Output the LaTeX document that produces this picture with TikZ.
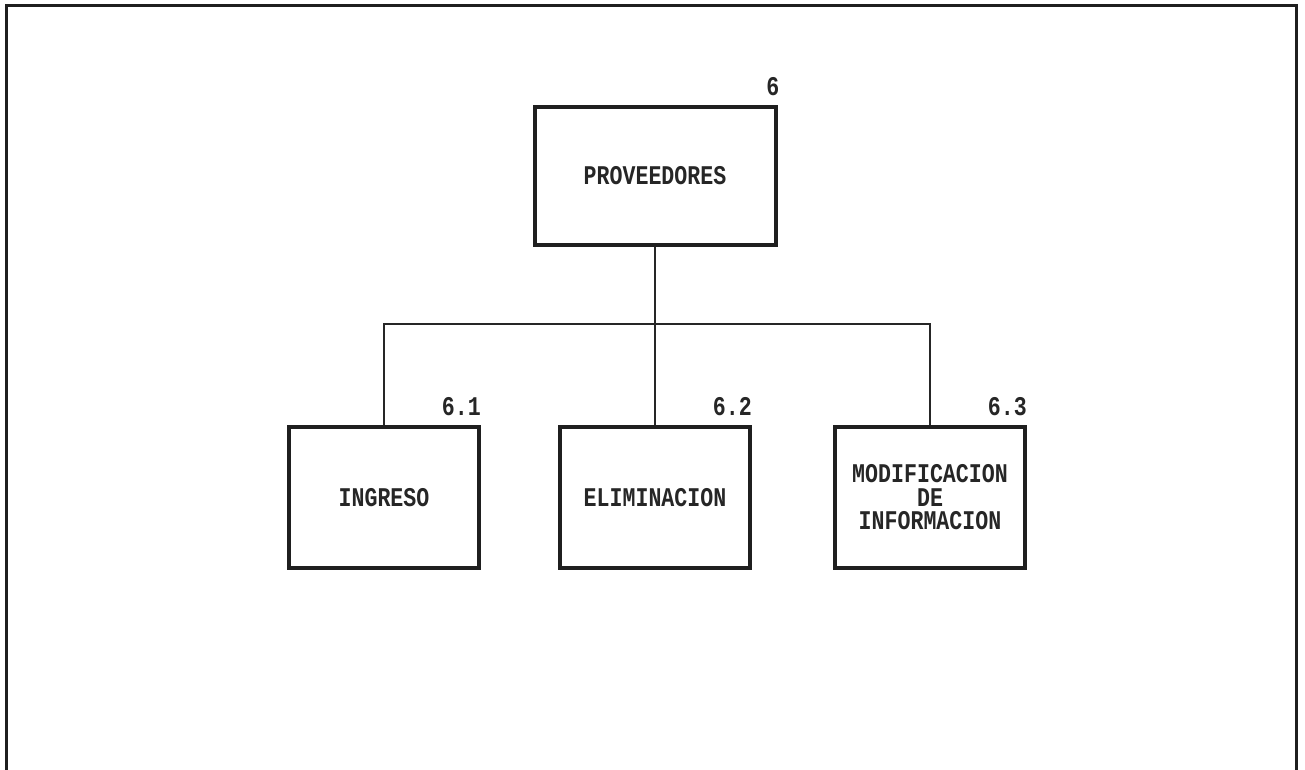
\documentclass[tikz,border=0pt]{standalone}
\usepackage{fontspec}
\newfontfamily\dotfont[FakeStretch=0.8]{Liberation Mono}
\begin{document}
\begin{tikzpicture}[x=1pt,y=1pt,
  boxnode/.style={draw=black!88, line width=4pt, minimum width=190pt, minimum height=141pt,
    inner sep=0pt, align=center, font=\dotfont\bfseries\fontsize{27}{23.5}\selectfont, text=black!85},
  numlabel/.style={inner sep=0pt, anchor=base east, font=\dotfont\bfseries\fontsize{27}{23.5}\selectfont, text=black!85},
  link/.style={draw=black!85, line width=2pt},
  frame/.style={draw=black!88, line width=3pt}]
\useasboundingbox (0,0) rectangle (1305,770);
\fill[white] (0,0) rectangle (1305,770);
\draw[frame] (6,0) -- (6,764) -- (1296,764) -- (1296,0);

\node[boxnode, minimum width=241pt, minimum height=138pt] (top) at (655,594) {PROVEEDORES};
\node[boxnode] (c1) at (384,272.5) {INGRESO};
\node[boxnode] (c2) at (655,272.5) {ELIMINACION};
\node[boxnode] (c3) at (930,272.5) {MODIFICACION\\DE\\INFORMACION};

\node[numlabel] (l0) at ([xshift=2pt,yshift=9pt]top.north east) {6};
\node[numlabel] (l1) at ([yshift=9pt]c1.north east) {6.1};
\node[numlabel] (l2) at ([yshift=9pt]c2.north east) {6.2};
\node[numlabel] (l3) at ([yshift=9pt]c3.north east) {6.3};

\coordinate (j) at (655,446);
\draw[link] (top.south) -- (j);
\draw[link] (c1.north) |- (j) -| (c3.north);
\draw[link] (j) -- (c2.north);
\end{tikzpicture}
\end{document}
